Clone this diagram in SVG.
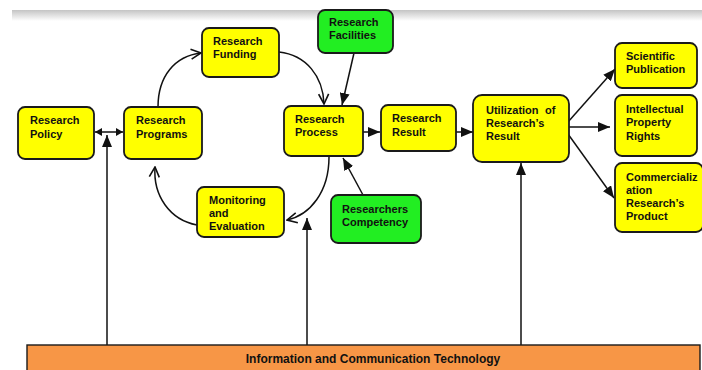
<svg xmlns="http://www.w3.org/2000/svg" width="702" height="370" viewBox="0 0 702 370">
  <defs>
    <linearGradient id="topShade" x1="0" y1="0" x2="0" y2="1">
      <stop offset="0" stop-color="#c4c4c4"/>
      <stop offset="1" stop-color="#ffffff"/>
    </linearGradient>
    <marker id="solid" markerUnits="userSpaceOnUse" viewBox="0 0 12 10" refX="12" refY="5" markerWidth="12" markerHeight="10" orient="auto">
      <path d="M0,0 L12,5 L0,10 z" fill="#111"/>
    </marker>
    <marker id="small" markerUnits="userSpaceOnUse" viewBox="0 0 7 8" refX="7" refY="4" markerWidth="7" markerHeight="8" orient="auto-start-reverse">
      <path d="M0,0 L7,4 L0,8 z" fill="#111"/>
    </marker>
    <marker id="open" markerUnits="userSpaceOnUse" viewBox="-1 -1 12 12" refX="10" refY="5" markerWidth="12" markerHeight="12" orient="auto">
      <path d="M0,0 L10,5 L0,10" fill="none" stroke="#111" stroke-width="1.6"/>
    </marker>
  </defs>
  <style>
    .box { stroke: #1a1a1a; stroke-width: 1.8; }
    .yellow { fill: #ffff00; }
    .green { fill: #22ee22; }
    .lbl { font-family: "Liberation Sans", Arial, sans-serif; font-weight: bold; font-size: 11px; fill: #111; }
    .conn { fill: none; stroke: #111; stroke-width: 1.5; }
  </style>

  <rect width="702" height="370" fill="#ffffff"/>
  <rect x="12" y="10" width="690" height="11" fill="url(#topShade)"/>

  <!-- connectors -->
  <g id="connectors">
    <line class="conn" x1="95" y1="132" x2="123" y2="132" marker-start="url(#small)" marker-end="url(#small)"/>
    <path class="conn" d="M158,107 C158,76 175,56 201,53" marker-end="url(#open)"/>
    <path class="conn" d="M279,52 C306,55 323,76 324,104" marker-end="url(#open)"/>
    <path class="conn" d="M329,157 C329,192 310,215 287,220" marker-end="url(#open)"/>
    <path class="conn" d="M197,225 C170,220 153,196 155,167" marker-end="url(#open)"/>
    <line class="conn" x1="354" y1="53" x2="342" y2="105" marker-end="url(#solid)"/>
    <line class="conn" x1="363" y1="195" x2="343" y2="158" marker-end="url(#solid)"/>
    <line class="conn" x1="363" y1="132" x2="380" y2="132" marker-end="url(#solid)"/>
    <line class="conn" x1="456" y1="132" x2="473" y2="132" marker-end="url(#solid)"/>
    <line class="conn" x1="568" y1="122" x2="615" y2="69" marker-end="url(#solid)"/>
    <line class="conn" x1="569" y1="127" x2="610" y2="127" marker-end="url(#solid)"/>
    <line class="conn" x1="568" y1="134" x2="614" y2="198" marker-end="url(#solid)"/>
    <line class="conn" x1="107" y1="345" x2="107" y2="135" marker-end="url(#solid)"/>
    <line class="conn" x1="307" y1="345" x2="307" y2="218" marker-end="url(#solid)"/>
    <line class="conn" x1="521" y1="345" x2="521" y2="163" marker-end="url(#solid)"/>
  </g>

  <g id="research-policy">
    <rect class="box yellow" x="18" y="107" width="76" height="52" rx="7"/>
    <text class="lbl"><tspan x="30" y="124">Research</tspan><tspan x="30" y="138">Policy</tspan></text>
  </g>
  <g id="research-programs">
    <rect class="box yellow" x="124" y="107" width="78" height="52" rx="7"/>
    <text class="lbl"><tspan x="136" y="124">Research</tspan><tspan x="136" y="138">Programs</tspan></text>
  </g>
  <g id="research-funding">
    <rect class="box yellow" x="202" y="28" width="77" height="49" rx="7"/>
    <text class="lbl"><tspan x="213" y="45">Research</tspan><tspan x="213" y="58">Funding</tspan></text>
  </g>
  <g id="research-facilities">
    <rect class="box green" x="318" y="10" width="75" height="43" rx="7"/>
    <text class="lbl"><tspan x="329" y="26">Research</tspan><tspan x="329" y="39">Facilities</tspan></text>
  </g>
  <g id="research-process">
    <rect class="box yellow" x="284" y="106" width="79" height="50" rx="7"/>
    <text class="lbl"><tspan x="295" y="123">Research</tspan><tspan x="295" y="136">Process</tspan></text>
  </g>
  <g id="research-result">
    <rect class="box yellow" x="381" y="105" width="75" height="46" rx="7"/>
    <text class="lbl"><tspan x="392" y="122">Research</tspan><tspan x="392" y="136">Result</tspan></text>
  </g>
  <g id="utilization">
    <rect class="box yellow" x="473" y="95" width="96" height="67" rx="9"/>
    <text class="lbl"><tspan x="486" y="114">Utilization</tspan><tspan x="545" y="114">of</tspan><tspan x="486" y="127">Research’s</tspan><tspan x="486" y="140">Result</tspan></text>
  </g>
  <g id="monitoring-evaluation">
    <rect class="box yellow" x="197" y="187" width="87" height="50" rx="7"/>
    <text class="lbl"><tspan x="209" y="204">Monitoring</tspan><tspan x="209" y="217">and</tspan><tspan x="209" y="230">Evaluation</tspan></text>
  </g>
  <g id="researchers-competency">
    <rect class="box green" x="331" y="195" width="90" height="48" rx="7"/>
    <text class="lbl"><tspan x="342" y="213">Researchers</tspan><tspan x="342" y="226">Competency</tspan></text>
  </g>
  <g id="scientific-publication">
    <rect class="box yellow" x="615" y="43" width="82" height="45" rx="7"/>
    <text class="lbl"><tspan x="626" y="60">Scientific</tspan><tspan x="626" y="73">Publication</tspan></text>
  </g>
  <g id="ip-rights">
    <rect class="box yellow" x="615" y="95" width="82" height="61" rx="7"/>
    <text class="lbl"><tspan x="626" y="113">Intellectual</tspan><tspan x="626" y="126">Property</tspan><tspan x="626" y="140">Rights</tspan></text>
  </g>
  <g id="commercialization">
    <rect class="box yellow" x="615" y="163" width="88" height="69" rx="7"/>
    <text class="lbl"><tspan x="626" y="181">Commercializ</tspan><tspan x="626" y="194">ation</tspan><tspan x="626" y="207">Research’s</tspan><tspan x="626" y="220">Product</tspan></text>
  </g>
  <g id="ict">
    <rect x="27" y="345" width="673" height="30" fill="#f79646" stroke="#1a1a1a" stroke-width="1.4"/>
    <text class="lbl" x="373" y="363" text-anchor="middle" style="font-size:12px">Information and Communication Technology</text>
  </g>
</svg>
